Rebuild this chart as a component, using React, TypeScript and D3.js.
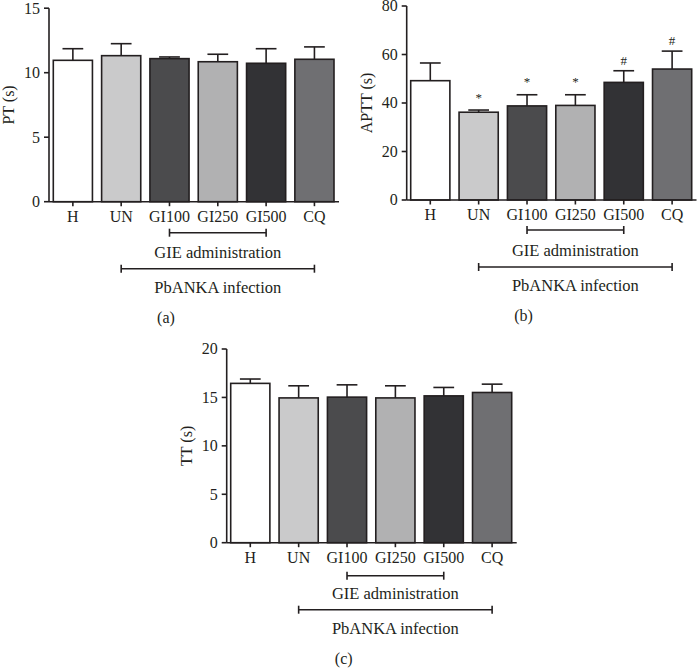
import React from 'react';
import * as d3 from 'd3';

// groups on the x axis
const groups = ['H', 'UN', 'GI100', 'GI250', 'GI500', 'CQ'];
const fills = ['#ffffff', '#cacacb', '#4b4b4d', '#b1b1b2', '#323235', '#6f6f72'];

// (a) prothrombin time
const ptMean = [10.96, 11.32, 11.09, 10.85, 10.73, 11.04];
const ptErr = [0.9, 0.93, 0.13, 0.58, 1.13, 0.96];
const ptTicks = [0, 5, 10, 15];

// (b) activated partial thromboplastin time
const apttMean = [49.2, 36.2, 38.8, 39.0, 48.5, 54.0];
const apttErr = [7.3, 0.9, 4.6, 4.4, 4.8, 7.4];
const apttMarks = ['', '*', '*', '*', '#', '#'];
const apttTicks = [0, 20, 40, 60, 80];

// (c) thrombin time
const ttMean = [16.45, 14.95, 15.03, 14.95, 15.16, 15.51];
const ttErr = [0.45, 1.25, 1.27, 1.25, 0.87, 0.86];
const ttTicks = [0, 5, 10, 15, 20];

const FONT = '"Liberation Serif", "Times New Roman", serif';
const INK = '#231f20';

type PanelProps = {
  axisX: number;
  xEnd: number;
  barStart: number;
  barEnd: number;
  y0: number;
  yTop: number;
  max: number;
  ticks: number[];
  means: number[];
  errs: number[];
  marks?: string[];
  yLabel: string;
  caption: string;
  gieGap?: number;
};

const Panel: React.FC<PanelProps> = (p) => {
  const x = d3
    .scaleBand<string>()
    .domain(groups)
    .range([p.barStart, p.barEnd])
    .paddingInner(0.19)
    .paddingOuter(0);
  const y = d3.scaleLinear().domain([0, p.max]).range([p.y0, p.yTop]);
  const bw = x.bandwidth();
  const cx = (g: string) => (x(g) || 0) + bw / 2;
  const capW = bw * 0.53;

  const gieY = p.y0 + (p.gieGap ?? 31);
  const pbY = p.y0 + 67;
  const gieL = cx('GI100');
  const gieR = cx('GI500');
  const pbL = cx('UN');
  const pbR = cx('CQ');
  const mid = (p.axisX + p.xEnd) / 2;

  return (
    <g fontFamily={FONT} fill={INK}>
      {/* bars */}
      {groups.map((g, i) => (
        <rect
          key={g}
          x={x(g)}
          y={y(p.means[i])}
          width={bw}
          height={p.y0 - y(p.means[i])}
          fill={fills[i]}
          stroke={INK}
          strokeWidth={1.6}
        />
      ))}
      {/* error bars, upward only */}
      {groups.map((g, i) => {
        const top = y(p.means[i] + p.errs[i]);
        return (
          <g key={'e' + g} stroke={INK} strokeWidth={1.6}>
            <line x1={cx(g)} x2={cx(g)} y1={y(p.means[i])} y2={top} />
            <line x1={cx(g) - capW / 2} x2={cx(g) + capW / 2} y1={top} y2={top} />
          </g>
        );
      })}
      {/* significance marks */}
      {p.marks &&
        groups.map((g, i) => {
          const m = p.marks![i];
          if (!m) return null;
          const top = y(p.means[i] + p.errs[i]);
          return (
            <text
              key={'m' + g}
              x={cx(g)}
              y={m === '*' ? top - 8.5 : top - 6}
              textAnchor="middle"
              fontSize={13}
            >
              {m}
            </text>
          );
        })}
      {/* y axis */}
      <line x1={p.axisX} x2={p.axisX} y1={p.y0} y2={p.yTop} stroke={INK} strokeWidth={1.6} />
      {p.ticks.map((t) => (
        <g key={'t' + t}>
          <line x1={p.axisX - 5} x2={p.axisX} y1={y(t)} y2={y(t)} stroke={INK} strokeWidth={1.6} />
          <text x={p.axisX - 9} y={y(t)} dy="0.34em" textAnchor="end" fontSize={16}>
            {t}
          </text>
        </g>
      ))}
      <text
        transform={`translate(${p.axisX - 35},${(p.y0 + p.yTop) / 2}) rotate(-90)`}
        textAnchor="middle"
        fontSize={16}
      >
        {p.yLabel}
      </text>
      {/* x axis */}
      <line x1={p.axisX} x2={p.xEnd} y1={p.y0} y2={p.y0} stroke={INK} strokeWidth={1.6} />
      {groups.map((g) => (
        <g key={'x' + g}>
          <line x1={cx(g)} x2={cx(g)} y1={p.y0} y2={p.y0 + 4.5} stroke={INK} strokeWidth={1.6} />
          <text x={cx(g)} y={p.y0 + 20} textAnchor="middle" fontSize={16}>
            {g}
          </text>
        </g>
      ))}
      {/* treatment brackets */}
      <g stroke={INK} strokeWidth={1.6}>
        <line x1={gieL} x2={gieR} y1={gieY} y2={gieY} />
        <line x1={gieL} x2={gieL} y1={gieY - 4} y2={gieY + 4} />
        <line x1={gieR} x2={gieR} y1={gieY - 4} y2={gieY + 4} />
        <line x1={pbL} x2={pbR} y1={pbY} y2={pbY} />
        <line x1={pbL} x2={pbL} y1={pbY - 4} y2={pbY + 4} />
        <line x1={pbR} x2={pbR} y1={pbY - 4} y2={pbY + 4} />
      </g>
      <text x={(gieL + gieR) / 2} y={p.y0 + 56} textAnchor="middle" fontSize={16.5}>
        GIE administration
      </text>
      <text x={(pbL + pbR) / 2} y={p.y0 + 91} textAnchor="middle" fontSize={16.5}>
        PbANKA infection
      </text>
      <text x={mid - 28} y={p.y0 + 121} textAnchor="middle" fontSize={16}>
        {p.caption}
      </text>
    </g>
  );
};

export default function App() {
  return (
    <svg
      width={697}
      height={668}
      style={{ position: 'absolute', left: 0, top: 0, display: 'block', background: '#fff' }}
    >
      <rect width={697} height={668} fill="#fff" />
      <Panel
        axisX={49}
        xEnd={339}
        barStart={53.3}
        barEnd={334}
        y0={201.7}
        yTop={8.2}
        max={15}
        ticks={ptTicks}
        means={ptMean}
        errs={ptErr}
        yLabel="PT (s)"
        caption="(a)"
      />
      <Panel
        axisX={406.7}
        xEnd={696.5}
        barStart={410.7}
        barEnd={691.7}
        y0={200}
        yTop={6}
        max={80}
        ticks={apttTicks}
        means={apttMean}
        errs={apttErr}
        marks={apttMarks}
        yLabel="APTT (s)"
        caption="(b)"
        gieGap={30}
      />
      <Panel
        axisX={226.7}
        xEnd={516.7}
        barStart={230.7}
        barEnd={511.7}
        y0={542.7}
        yTop={349}
        max={20}
        ticks={ttTicks}
        means={ttMean}
        errs={ttErr}
        yLabel="TT (s)"
        caption="(c)"
        gieGap={33}
      />
    </svg>
  );
}
